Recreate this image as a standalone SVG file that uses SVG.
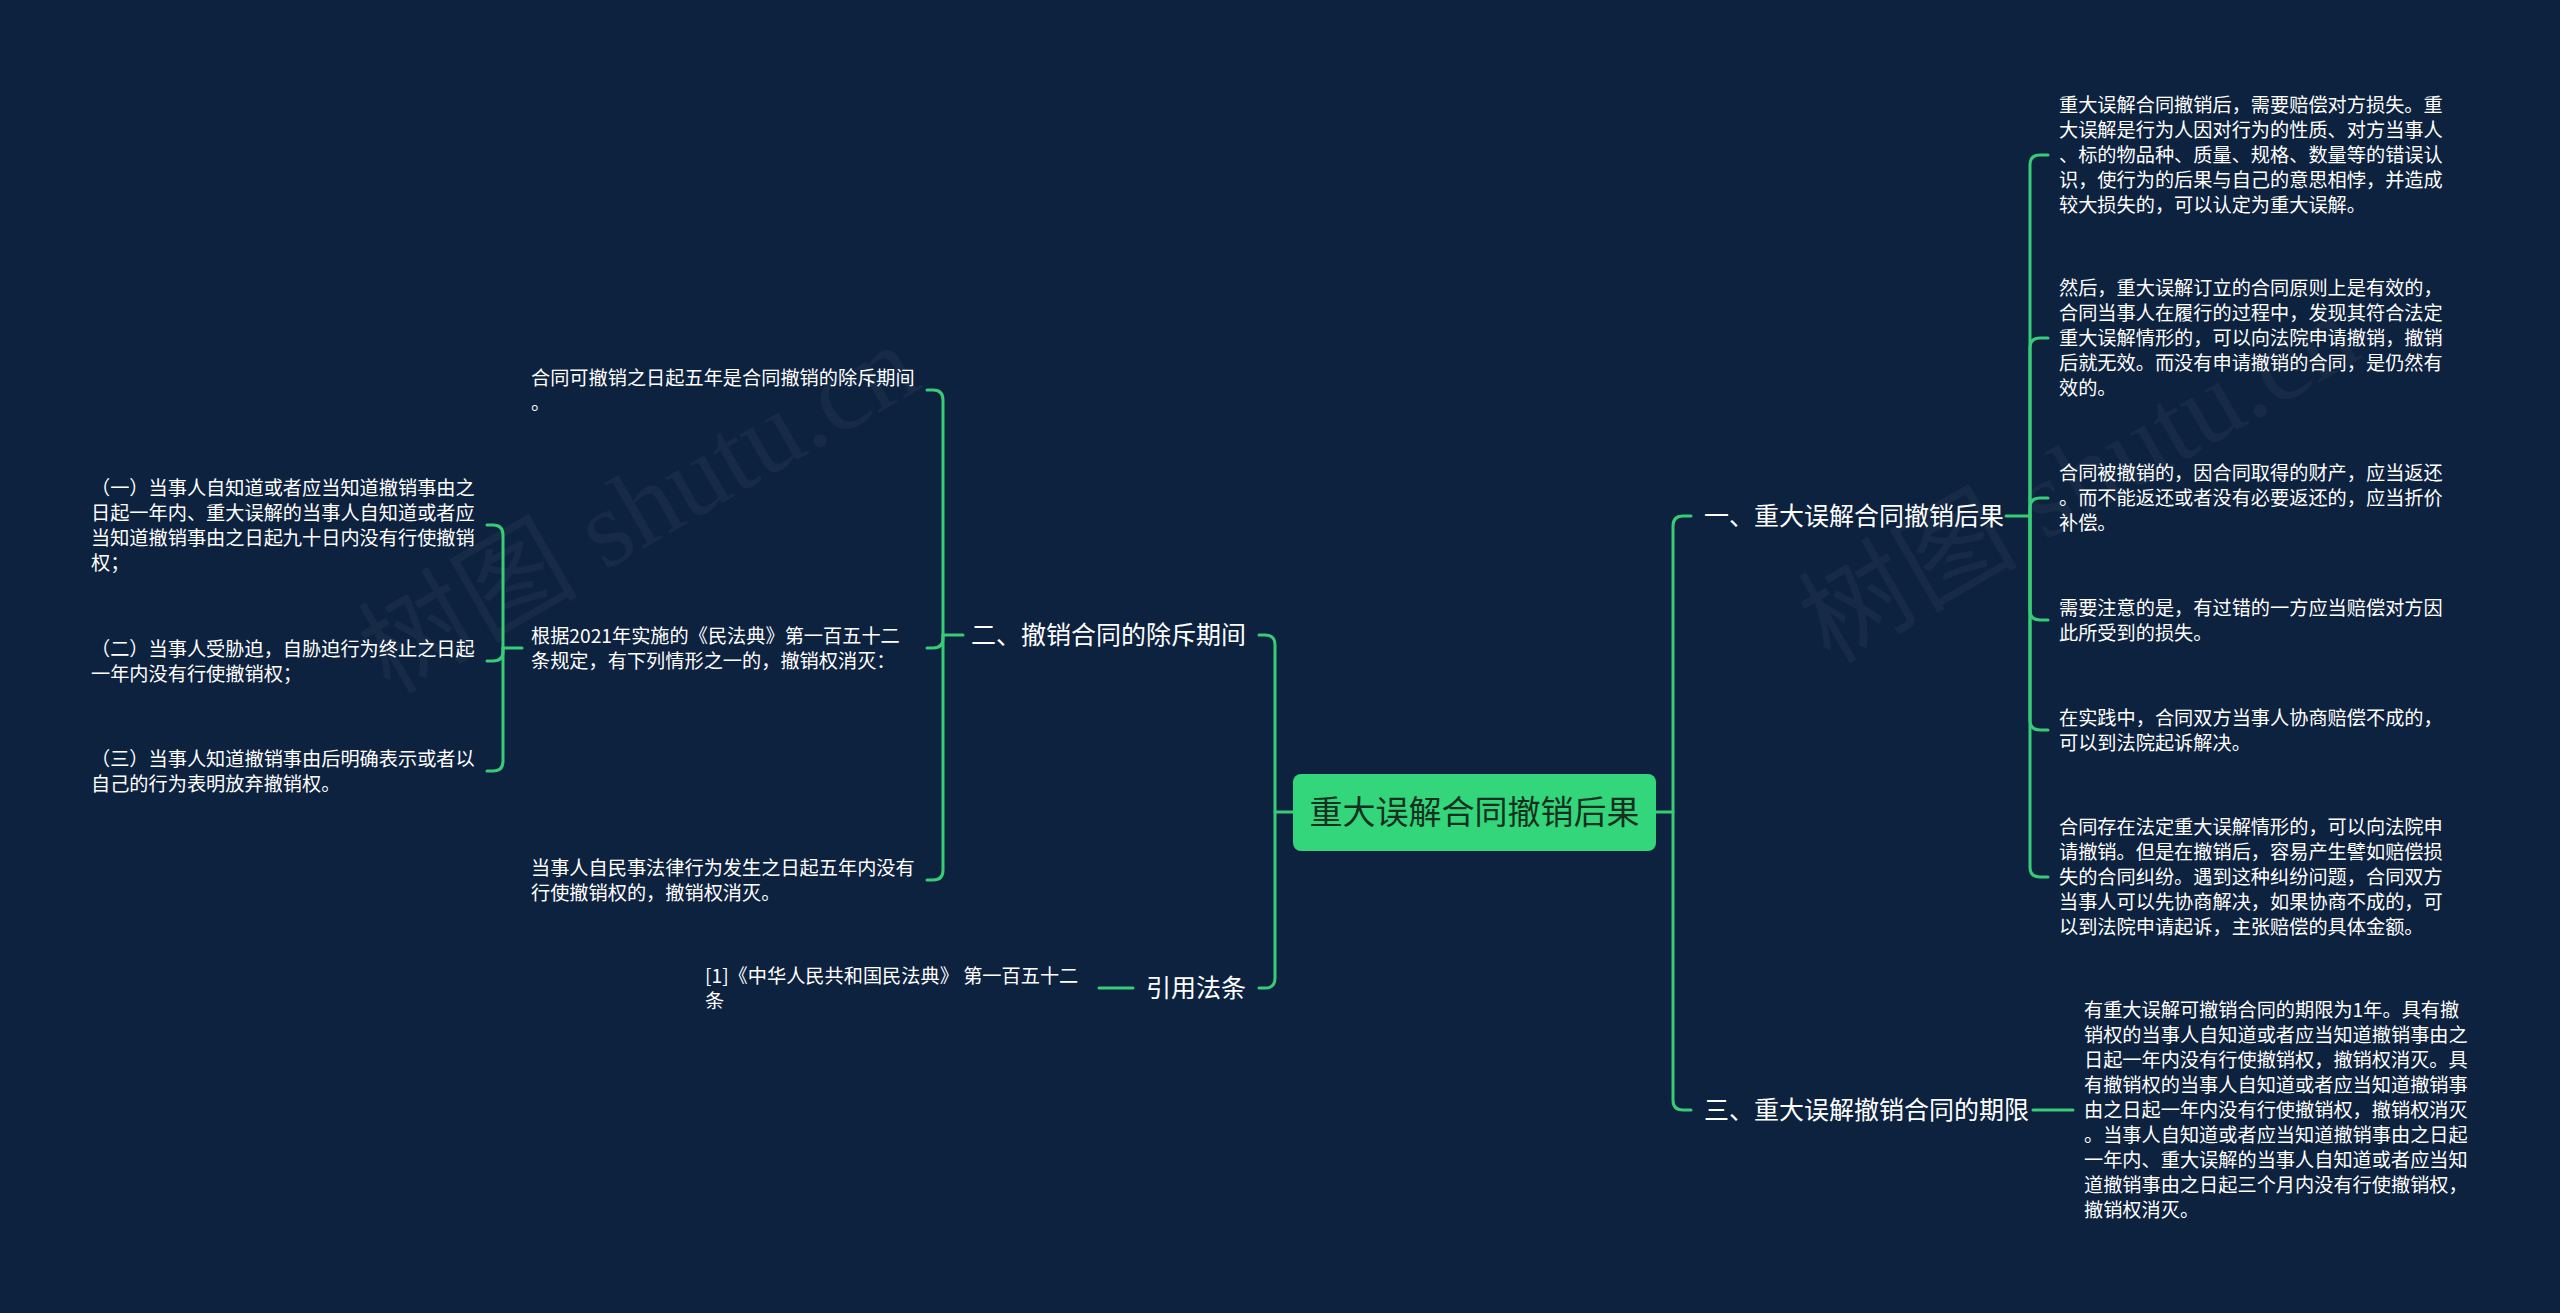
<svg xmlns="http://www.w3.org/2000/svg" width="2560" height="1313" viewBox="0 0 2560 1313">
<style>
.bg{fill:#0d223f}
.wm{font-family:"Liberation Serif","Noto Sans CJK SC",serif;font-size:110px;fill:#ffffff;fill-opacity:0.045}
.c{fill:none;stroke:#38cc79;stroke-width:3;stroke-linecap:round}
.root{fill:#33d67a}
.rt{font-family:"Noto Sans CJK SC","Noto Sans",sans-serif;font-size:33px;fill:#15301f;text-anchor:middle}
.br{font-family:"Noto Sans CJK SC","Noto Sans",sans-serif;font-size:25px;fill:#ffffff}
.lf{font-family:"Noto Sans CJK SC","Noto Sans",sans-serif;font-size:19.2px;fill:#ffffff}
</style>
<rect class="bg" x="0" y="0" width="2560" height="1313"/>
<g id="watermarks">
<text class="wm" x="390" y="695" transform="rotate(-30 390 695)">树图 shutu.cn</text>
<text class="wm" x="1830" y="665" transform="rotate(-30 1830 665)">树图 shutu.cn</text>
</g>
<g id="connectors">
<path class="c" d="M1656,812 H1673"/>
<path class="c" d="M1691,516 H1683 Q1673,516 1673,526 V1100 Q1673,1110 1683,1110 H1691"/>
<path class="c" d="M2006,516 H2030"/>
<path class="c" d="M2030,516 V165 Q2030,155 2040,155 H2048"/>
<path class="c" d="M2030,516 V348 Q2030,338 2040,338 H2048"/>
<path class="c" d="M2030,516 V508 Q2030,498 2040,498 H2048"/>
<path class="c" d="M2030,516 V610 Q2030,620 2040,620 H2048"/>
<path class="c" d="M2030,516 V720 Q2030,730 2040,730 H2048"/>
<path class="c" d="M2030,516 V867 Q2030,877 2040,877 H2048"/>
<path class="c" d="M2033,1110 H2073"/>
<path class="c" d="M1293,812 H1275"/>
<path class="c" d="M1259,635 H1265 Q1275,635 1275,645 V978 Q1275,988 1265,988 H1259"/>
<path class="c" d="M963,635 H943"/>
<path class="c" d="M943,635 V400 Q943,390 933,390 H927"/>
<path class="c" d="M943,635 V638 Q943,648 933,648 H927"/>
<path class="c" d="M943,635 V870 Q943,880 933,880 H927"/>
<path class="c" d="M522,648 H503"/>
<path class="c" d="M503,648 V535 Q503,525 493,525 H487"/>
<path class="c" d="M503,648 V651 Q503,661 493,661 H487"/>
<path class="c" d="M503,648 V761 Q503,771 493,771 H487"/>
<path class="c" d="M1133,988 H1099"/>
</g>
<g id="root">
<rect class="root" x="1293" y="774" width="363" height="77" rx="8"/>
<text class="rt" x="1474.5" y="824">重大误解合同撤销后果</text>
</g>
<g id="branch1">
<text class="br" x="1704" y="525">一、重大误解合同撤销后果</text>
</g>
<g id="leaf1">
<text class="lf" x="2059" y="112">重大误解合同撤销后，需要赔偿对方损失。重</text>
<text class="lf" x="2059" y="137">大误解是行为人因对行为的性质、对方当事人</text>
<text class="lf" x="2059" y="162">、标的物品种、质量、规格、数量等的错误认</text>
<text class="lf" x="2059" y="187">识，使行为的后果与自己的意思相悖，并造成</text>
<text class="lf" x="2059" y="212">较大损失的，可以认定为重大误解。</text>
</g>
<g id="leaf2">
<text class="lf" x="2059" y="295">然后，重大误解订立的合同原则上是有效的，</text>
<text class="lf" x="2059" y="320">合同当事人在履行的过程中，发现其符合法定</text>
<text class="lf" x="2059" y="345">重大误解情形的，可以向法院申请撤销，撤销</text>
<text class="lf" x="2059" y="370">后就无效。而没有申请撤销的合同，是仍然有</text>
<text class="lf" x="2059" y="395">效的。</text>
</g>
<g id="leaf3">
<text class="lf" x="2059" y="480">合同被撤销的，因合同取得的财产，应当返还</text>
<text class="lf" x="2059" y="505">。而不能返还或者没有必要返还的，应当折价</text>
<text class="lf" x="2059" y="530">补偿。</text>
</g>
<g id="leaf4">
<text class="lf" x="2059" y="614.5">需要注意的是，有过错的一方应当赔偿对方因</text>
<text class="lf" x="2059" y="639.5">此所受到的损失。</text>
</g>
<g id="leaf5">
<text class="lf" x="2059" y="724.5">在实践中，合同双方当事人协商赔偿不成的，</text>
<text class="lf" x="2059" y="749.5">可以到法院起诉解决。</text>
</g>
<g id="leaf6">
<text class="lf" x="2059" y="834">合同存在法定重大误解情形的，可以向法院申</text>
<text class="lf" x="2059" y="859">请撤销。但是在撤销后，容易产生譬如赔偿损</text>
<text class="lf" x="2059" y="884">失的合同纠纷。遇到这种纠纷问题，合同双方</text>
<text class="lf" x="2059" y="909">当事人可以先协商解决，如果协商不成的，可</text>
<text class="lf" x="2059" y="934">以到法院申请起诉，主张赔偿的具体金额。</text>
</g>
<g id="branch3">
<text class="br" x="1704" y="1119">三、重大误解撤销合同的期限</text>
</g>
<g id="leaf7">
<text class="lf" x="2084" y="1017">有重大误解可撤销合同的期限为1年。具有撤</text>
<text class="lf" x="2084" y="1042">销权的当事人自知道或者应当知道撤销事由之</text>
<text class="lf" x="2084" y="1067">日起一年内没有行使撤销权，撤销权消灭。具</text>
<text class="lf" x="2084" y="1092">有撤销权的当事人自知道或者应当知道撤销事</text>
<text class="lf" x="2084" y="1117">由之日起一年内没有行使撤销权，撤销权消灭</text>
<text class="lf" x="2084" y="1142">。当事人自知道或者应当知道撤销事由之日起</text>
<text class="lf" x="2084" y="1167">一年内、重大误解的当事人自知道或者应当知</text>
<text class="lf" x="2084" y="1192">道撤销事由之日起三个月内没有行使撤销权，</text>
<text class="lf" x="2084" y="1217">撤销权消灭。</text>
</g>
<g id="branch2">
<text class="br" x="1246" y="644" text-anchor="end">二、撤销合同的除斥期间</text>
</g>
<g id="b2child1">
<text class="lf" x="531" y="384.5">合同可撤销之日起五年是合同撤销的除斥期间</text>
<text class="lf" x="531" y="409.5">。</text>
</g>
<g id="b2child2">
<text class="lf" x="531" y="642.5">根据2021年实施的《民法典》第一百五十二</text>
<text class="lf" x="531" y="667.5">条规定，有下列情形之一的，撤销权消灭：</text>
</g>
<g id="b2child3">
<text class="lf" x="531" y="874.5">当事人自民事法律行为发生之日起五年内没有</text>
<text class="lf" x="531" y="899.5">行使撤销权的，撤销权消灭。</text>
</g>
<g id="gc1">
<text class="lf" x="91" y="494.5">（一）当事人自知道或者应当知道撤销事由之</text>
<text class="lf" x="91" y="519.5">日起一年内、重大误解的当事人自知道或者应</text>
<text class="lf" x="91" y="544.5">当知道撤销事由之日起九十日内没有行使撤销</text>
<text class="lf" x="91" y="569.5">权；</text>
</g>
<g id="gc2">
<text class="lf" x="91" y="655.5">（二）当事人受胁迫，自胁迫行为终止之日起</text>
<text class="lf" x="91" y="680.5">一年内没有行使撤销权；</text>
</g>
<g id="gc3">
<text class="lf" x="91" y="765.5">（三）当事人知道撤销事由后明确表示或者以</text>
<text class="lf" x="91" y="790.5">自己的行为表明放弃撤销权。</text>
</g>
<g id="branch4">
<text class="br" x="1246" y="997" text-anchor="end">引用法条</text>
</g>
<g id="ref1">
<text class="lf" x="705" y="982.5">[1]《中华人民共和国民法典》 第一百五十二</text>
<text class="lf" x="705" y="1007.5">条</text>
</g>
</svg>
